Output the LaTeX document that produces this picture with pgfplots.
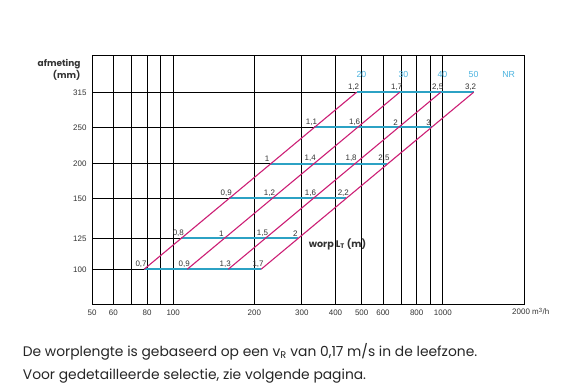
\documentclass[border=0pt]{standalone}
\usepackage{pgfplots}
\pgfplotsset{compat=1.18}
\usepackage{pgfplotstable}
\usepackage{fontspec}
\setmainfont{Liberation Sans}
\newfontfamily\gothic{Poppins}
\definecolor{lineblue}{HTML}{2CA2C4}
\definecolor{linepink}{HTML}{CC1F75}
\definecolor{nrblue}{HTML}{4BB3DF}
\definecolor{tickgray}{HTML}{333333}

\pgfplotstableread{
x y lab
78.0 34.7 0,7
112.7 34.7 0,9
160.0 34.7 1,3
211.8 34.7 1,7
107.2 65.7 0,8
154.9 65.7 1
219.8 65.7 1,5
291.1 65.7 2
161.4 105.7 0,9
233.3 105.7 1,2
331.1 105.7 1,6
438.5 105.7 2,2
228.6 140.3 1
330.4 140.3 1,4
468.8 140.3 1,8
620.9 140.3 2,5
334.2 176.7 1,1
483.1 176.7 1,6
685.5 176.7 2
907.8 176.7 3
478.6 211.7 1,2
691.8 211.7 1,7
981.7 211.7 2,5
1300.2 211.7 3,2
}\throwlabels

\pgfplotstableread{
x y lab
499 229.7 20
714 229.7 30
997 229.7 40
1300 229.7 50
1754 229.7 NR
}\nrlabels

\begin{document}
\begin{tikzpicture}
\useasboundingbox (0,0) rectangle (568bp,387bp);
\begin{axis}[
  at={(92bp,83bp)}, anchor=south west,
  scale only axis, width=432bp, height=249bp,
  xmode=log, xmin=50, xmax=2000, ymin=0, ymax=249,
  xtick={50,60,70,80,90,100,200,300,400,500,600,700,800,900,1000,2000},
  xticklabels={50,60,,80,,100,200,300,400,500,600,,800,,1000,},
  minor xtick={},
  ytick={34.7,65.7,105.7,140.3,176.7,211.7},
  yticklabels={100,125,150,200,250,315},
  major tick length=0,
  xmajorgrids,
  grid style={black, line width=0.8bp},
  axis line style={black, line width=0.8bp},
  clip=false,
  tick label style={font=\fontsize{8}{9}\selectfont, text=tickgray},
  xticklabel style={yshift=-2bp},
  yticklabel style={xshift=-2bp},
]
% black row lines up to the first throw line
\addplot[black, line width=0.8bp] coordinates {(50,34.7) (78.0,34.7)};
\addplot[black, line width=0.8bp] coordinates {(50,65.7) (107.2,65.7)};
\addplot[black, line width=0.8bp] coordinates {(50,105.7) (161.4,105.7)};
\addplot[black, line width=0.8bp] coordinates {(50,140.3) (228.6,140.3)};
\addplot[black, line width=0.8bp] coordinates {(50,176.7) (334.2,176.7)};
\addplot[black, line width=0.8bp] coordinates {(50,211.7) (478.6,211.7)};
% blue rows
\addplot[lineblue, line width=2bp] coordinates {(78.0,34.7) (211.8,34.7)};
\addplot[lineblue, line width=2bp] coordinates {(107.2,65.7) (291.1,65.7)};
\addplot[lineblue, line width=2bp] coordinates {(161.4,105.7) (438.5,105.7)};
\addplot[lineblue, line width=2bp] coordinates {(228.6,140.3) (620.9,140.3)};
\addplot[lineblue, line width=2bp] coordinates {(334.2,176.7) (907.8,176.7)};
\addplot[lineblue, line width=2bp] coordinates {(478.6,211.7) (1300.2,211.7)};
% pink NR lines
\addplot[linepink, line width=1.1bp] coordinates {(78.0,34.7) (478.6,211.7)};
\addplot[linepink, line width=1.1bp] coordinates {(112.7,34.7) (691.8,211.7)};
\addplot[linepink, line width=1.1bp] coordinates {(160.0,34.7) (981.7,211.7)};
\addplot[linepink, line width=1.1bp] coordinates {(211.8,34.7) (1300.2,211.7)};
% throw labels
\addplot[draw=none, mark=none, nodes near coords, point meta=explicit symbolic,
  nodes near coords style={anchor=south, xshift=-3bp, yshift=0.5bp, inner sep=1.5bp,
    font=\fontsize{8}{9}\selectfont, text=tickgray}]
  table[x=x, y=y, meta=lab] {\throwlabels};
% NR labels
\addplot[draw=none, mark=none, nodes near coords, point meta=explicit symbolic,
  nodes near coords style={anchor=center, inner sep=0pt,
    font=\fontsize{8.8}{9}\selectfont, text=nrblue}]
  table[x=x, y=y, meta=lab] {\nrlabels};
\end{axis}
\node[anchor=east, align=right, font=\gothic\bfseries\fontsize{9}{12}\selectfont, text=tickgray]
  at (84bp,317bp) {afmeting\\(mm)};
\node[anchor=center, font=\gothic\bfseries\fontsize{9.6}{11}\selectfont, text=tickgray]
  at (337.5bp,143bp) {worp L\textsubscript{T} (m)};
\node[anchor=base west, inner sep=0pt, font=\fontsize{8}{9}\selectfont, text=tickgray]
  at (512bp,72bp) {2000 m\textsuperscript{3}/h};
\node[anchor=west, inner sep=0pt, font=\gothic\fontsize{13.9}{16}\selectfont, text=black!85]
  at (22.7bp,35bp) {De worplengte is gebaseerd op een v\textsubscript{R} van 0,17 m/s in de leefzone.};
\node[anchor=west, inner sep=0pt, font=\gothic\fontsize{13.9}{16}\selectfont, text=black!85]
  at (22.7bp,11bp) {Voor gedetailleerde selectie, zie volgende pagina.};
\end{tikzpicture}
\end{document}
